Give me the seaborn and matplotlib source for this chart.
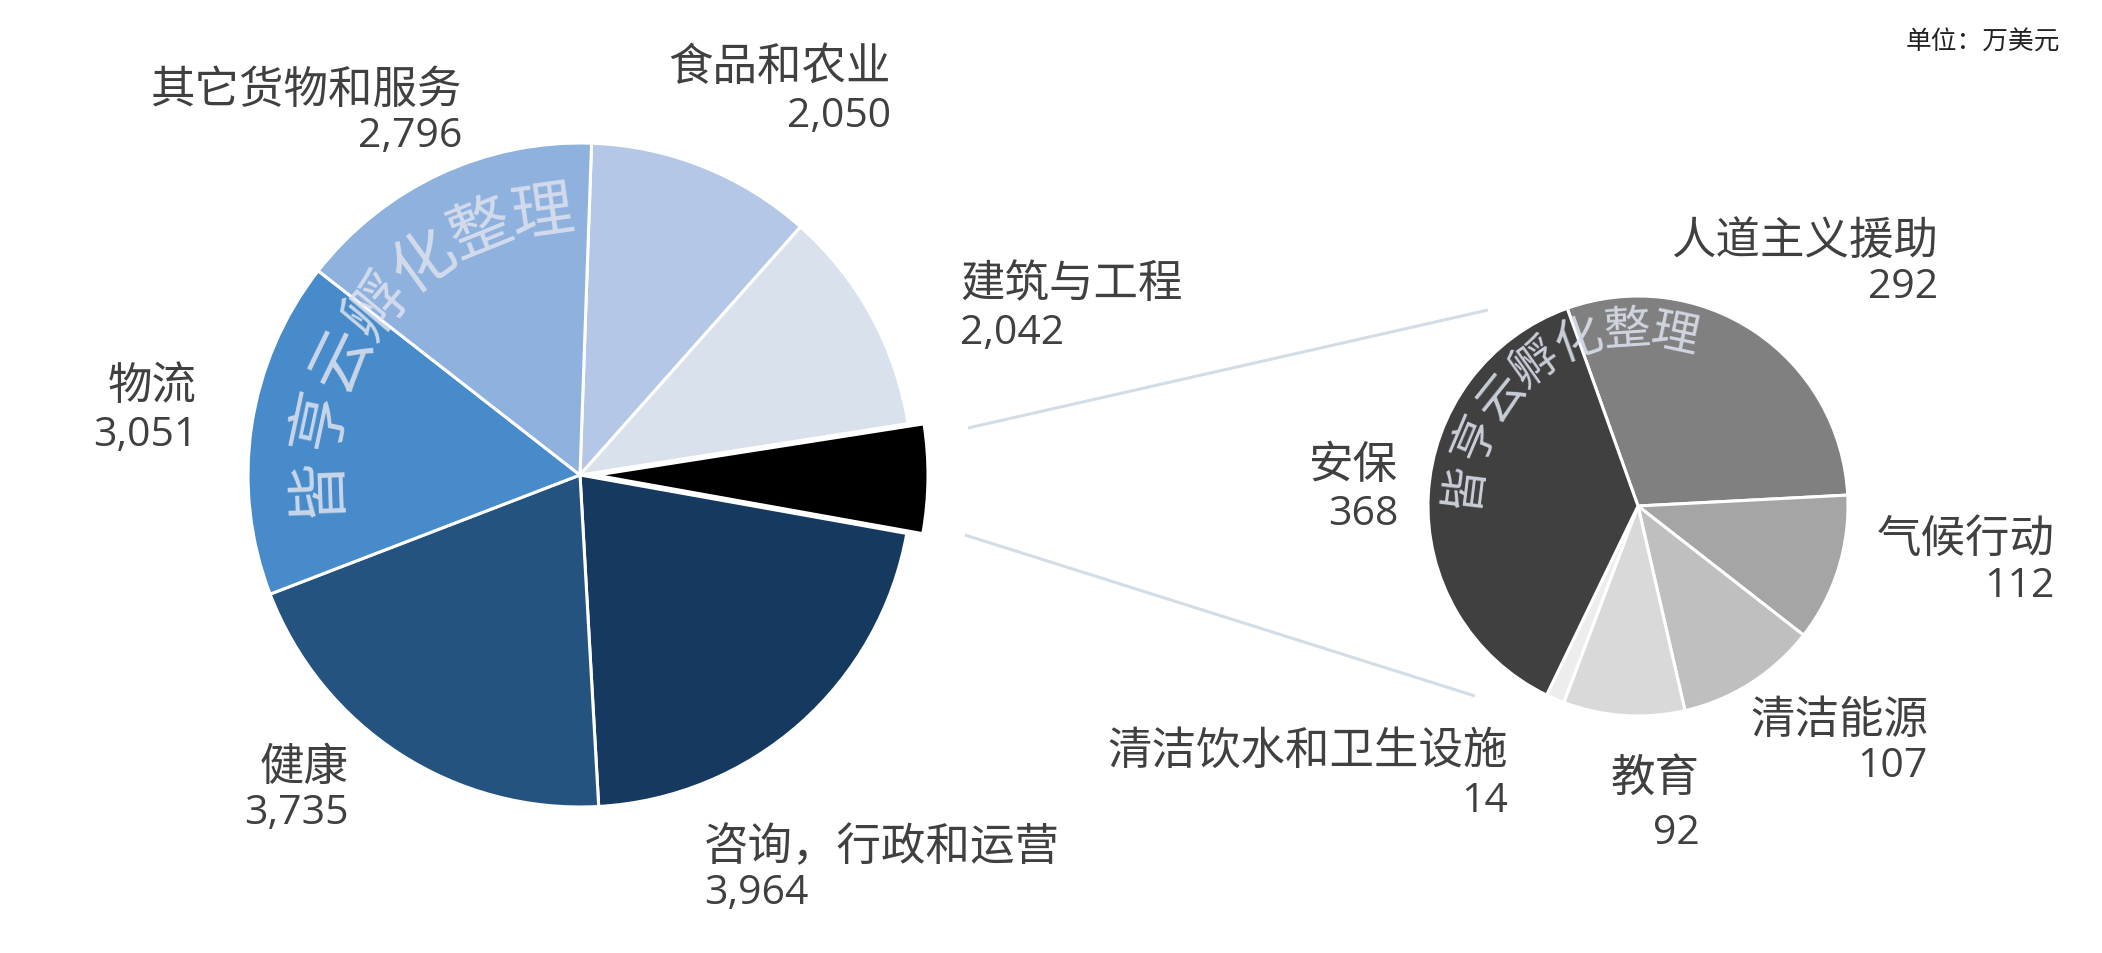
import numpy as np
import matplotlib
matplotlib.use("Agg")
import matplotlib.pyplot as plt
import seaborn as sns

# ---------------- data ----------------
main_labels = ["食品和农业", "建筑与工程", "咨询，行政和运营", "健康", "物流", "其它货物和服务"]
main_values = [2050, 2042, 3964, 3735, 3051, 2796]
sub_labels = ["人道主义援助", "气候行动", "清洁能源", "教育", "清洁饮水和卫生设施", "安保"]
sub_values = [292, 112, 107, 92, 14, 368]
unit_text = "单位：万美元"
watermark = "皆亨云孵化整理"

# ---------------- style ----------------
sns.set_theme(style="white")
plt.rcParams["font.family"] = ["Noto Sans CJK SC", "DejaVu Sans"]

main_colors = ["#B4C7E7", "#D9E2EC", "#163A5F", "#255380", "#478BCA", "#8FB1DE"]
other_color = "#000000"
sub_colors = ["#808080", "#A5A5A5", "#BFBFBF", "#D9D9D9", "#EDEDED", "#404040"]
text_color = "#404040"

W, H = 2102, 954
fig = plt.figure(figsize=(W / 100, H / 100), dpi=100)
ax = fig.add_axes([0, 0, 1, 1])

# main pie: insert "other" group (sum of sub pie) after 建筑与工程
other_total = sum(sub_values)
pie_vals = main_values[:2] + [other_total] + main_values[2:]
pie_cols = main_colors[:2] + [other_color] + main_colors[2:]
explode = [0, 0, 16, 0, 0, 0, 0]

mc = (580, 478)
mr = 332
ax.pie(pie_vals, colors=pie_cols, startangle=88, counterclock=False,
       center=mc, radius=mr, explode=explode,
       wedgeprops=dict(edgecolor="white", linewidth=2.2), frame=True)

sc = (1638, 447)
sr = 210
ax.pie(sub_values, colors=sub_colors, startangle=109.7, counterclock=False,
       center=sc, radius=sr,
       wedgeprops=dict(edgecolor="white", linewidth=2.2), frame=True)

# connector lines
ax.plot([968, 1488], [525, 643], color="#D3DDE6", lw=2.2, solid_capstyle="butt")
ax.plot([965, 1475], [418, 257], color="#D3DDE6", lw=2.2, solid_capstyle="butt")

# labels: (x, y_label, y_value, ha)
fs = 32
num_family = ["Open Sans", "Noto Sans CJK SC"]
main_pos = {
    "其它货物和服务": (462, 864, 817, "right"),
    "食品和农业": (891, 887, 837, "right"),
    "建筑与工程": (960, 670, 620, "left"),
    "物流": (197, 568, 518, "right"),
    "健康": (349, 187, 140, "right"),
    "咨询，行政和运营": (704, 107, 60, "left"),
}
sub_pos = {
    "人道主义援助": (1938, 713, 666, "right"),
    "安保": (1398, 489, 439, "right"),
    "气候行动": (2055, 415, 367, "right"),
    "清洁能源": (1928, 234, 187, "right"),
    "教育": (1700, 176, 120, "right"),
    "清洁饮水和卫生设施": (1508, 203, 152, "right"),
}
for labels, values, pos in ((main_labels, main_values, main_pos),
                            (sub_labels, sub_values, sub_pos)):
    for lab, val in zip(labels, values):
        x, yl, yv, ha = pos[lab]
        ax.text(x, yl, lab, ha=ha, va="center", fontsize=fs, color=text_color)
        ax.text(x, yv, f"{val:,}", ha=ha, va="center", fontsize=29.5,
                color=text_color, family=num_family)

ax.text(2060, 911, unit_text, ha="right", va="center", fontsize=18.5, color="#222222")

# watermark along arcs
def arc_text(center, radius, a0, a1, size):
    angs = np.linspace(a0, a1, len(watermark))
    for ch, a in zip(watermark, angs):
        t = np.deg2rad(a)
        x = center[0] + radius * np.cos(t)
        y = center[1] + radius * np.sin(t)
        ax.text(x, y, ch, ha="center", va="center", rotation=a - 90,
                rotation_mode="anchor", fontsize=size, color="#DCE1EE",
                alpha=0.88)

arc_text(mc, 265, 182, 98, 45)
arc_text(sc, 176, 173, 78, 34)

ax.set_xlim(0, W)
ax.set_ylim(0, H)
ax.set_aspect("equal")
ax.axis("off")
fig.savefig("out.png", dpi=100, facecolor="white")
